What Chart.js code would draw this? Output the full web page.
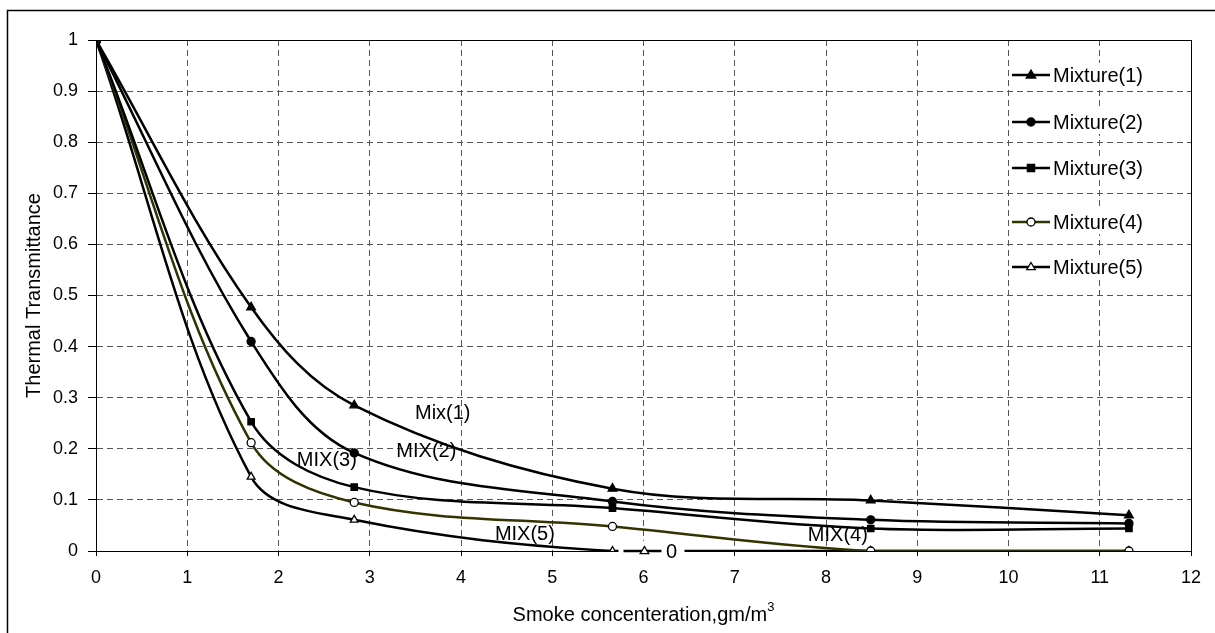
<!DOCTYPE html>
<html>
<head>
<meta charset="utf-8">
<script src="https://cdn.jsdelivr.net/npm/chart.js@4/dist/chart.umd.min.js"></script>
<style>
  html, body { margin: 0; padding: 0; background: #fff; }
  #wrap { width: 1215px; height: 633px; position: relative; }
  canvas { display: block; }
</style>
</head>
<body>
<div id="wrap"><canvas id="c" width="1215" height="633"></canvas></div>
<script>
// ---- data ----
const concentrations = [0, 1.7, 2.83, 5.66, 8.49, 11.32];
const mixture1 = [1, 0.477, 0.285, 0.122, 0.099, 0.070];
const mixture2 = [1, 0.410, 0.192, 0.097, 0.061, 0.054];
const mixture3 = [1, 0.253, 0.125, 0.084, 0.044, 0.044];
const mixture4 = [1, 0.212, 0.095, 0.048, 0, 0];
const mixture5 = [1, 0.145, 0.061, 0, 0, 0];
const seriesNames = ['Mixture(1)', 'Mixture(2)', 'Mixture(3)', 'Mixture(4)', 'Mixture(5)'];
const curveLabels = ['Mix(1)', 'MIX(2)', 'MIX(3)', 'MIX(4)', 'MIX(5)'];
const curveLabelX = [3.80, 3.62, 2.53, 8.13, 4.70];
const curveLabelY = [0.270, 0.194, 0.178, 0.031, 0.033];
const xTitle = 'Smoke concenteration,gm/m';
const xTitleSup = '3';
const yTitle = 'Thermal Transmittance';

const FONT = '"Liberation Sans", Arial, sans-serif';

function pts(arr) { return arr.map((v, i) => ({ x: concentrations[i], y: v })); }

const styles = [
  { color: '#000000', point: 'triangle', fill: '#000000', r: 5 },
  { color: '#000000', point: 'circle', fill: '#000000', r: 4 },
  { color: '#000000', point: 'rect', fill: '#000000', r: 4.5 },
  { color: '#333300', point: 'circle', fill: '#ffffff', r: 4 },
  { color: '#000000', point: 'triangle', fill: '#ffffff', r: 4.5 }
];
const seriesData = [mixture1, mixture2, mixture3, mixture4, mixture5];

const datasets = seriesData.map((d, i) => ({
  label: seriesNames[i],
  data: pts(d),
  borderColor: styles[i].color,
  borderWidth: 2.5,
  pointStyle: styles[i].point,
  pointRadius: styles[i].r,
  pointBackgroundColor: styles[i].fill,
  pointBorderColor: '#000000',
  pointBorderWidth: 1.3,
  tension: 0.35,
  fill: false
}));

function drawMarker(ctx, style, x, y, r, fill) {
  ctx.save();
  ctx.fillStyle = fill;
  ctx.strokeStyle = '#000';
  ctx.lineWidth = 1.3;
  ctx.beginPath();
  if (style === 'triangle') {
    ctx.moveTo(x, y - r);
    ctx.lineTo(x + r * 0.95, y + r * 0.6);
    ctx.lineTo(x - r * 0.95, y + r * 0.6);
    ctx.closePath();
  } else if (style === 'rect') {
    ctx.rect(x - r * 0.8, y - r * 0.8, r * 1.6, r * 1.6);
  } else {
    ctx.arc(x, y, r, 0, Math.PI * 2);
  }
  ctx.fill();
  ctx.stroke();
  ctx.restore();
}

const decorPlugin = {
  id: 'decor',
  beforeDraw(chart) {
    const ctx = chart.ctx;
    ctx.save();
    ctx.fillStyle = '#fff';
    ctx.fillRect(0, 0, chart.width, chart.height);
    ctx.restore();
  },
  beforeDatasetsDraw(chart) {
    const ctx = chart.ctx;
    const a = chart.chartArea;
    ctx.save();
    ctx.strokeStyle = '#000';
    ctx.lineWidth = 1;
    ctx.strokeRect(Math.round(a.left) + 0.5, Math.round(a.top) + 0.5,
      Math.round(a.right - a.left), Math.round(a.bottom - a.top));
    ctx.restore();
  },
  afterDatasetsDraw(chart) {
    const ctx = chart.ctx;
    const xs = chart.scales.x, ys = chart.scales.y;
    const a = chart.chartArea;

    // data label "0" with legend key for Mixture(5) at its 4th point
    const px = xs.getPixelForValue(concentrations[3]);
    const py = ys.getPixelForValue(mixture5[3]);
    ctx.save();
    ctx.fillStyle = '#fff';
    ctx.fillRect(px + 6, py - 10, 66, 20);
    ctx.strokeStyle = '#000';
    ctx.lineWidth = 2.5;
    ctx.beginPath();
    ctx.moveTo(px + 11, py);
    ctx.lineTo(px + 49, py);
    ctx.stroke();
    drawMarker(ctx, 'triangle', px + 32, py, 4.5, '#fff');
    ctx.fillStyle = '#000';
    ctx.font = '20px ' + FONT;
    ctx.textAlign = 'center';
    ctx.textBaseline = 'middle';
    ctx.fillText(String(mixture5[3]), px + 59, py + 1);
    ctx.restore();

    // curve labels
    ctx.save();
    ctx.fillStyle = '#000';
    ctx.font = '20px ' + FONT;
    ctx.textAlign = 'center';
    ctx.textBaseline = 'middle';
    curveLabels.forEach((t, i) => {
      ctx.fillText(t, xs.getPixelForValue(curveLabelX[i]), ys.getPixelForValue(curveLabelY[i]));
    });
    ctx.restore();

    // legend
    const legendY = [75, 122, 168, 222, 267];
    ctx.save();
    ctx.font = '20px ' + FONT;
    ctx.textBaseline = 'middle';
    ctx.textAlign = 'left';
    seriesNames.forEach((name, i) => {
      const y = legendY[i];
      const tw = ctx.measureText(name).width;
      ctx.fillStyle = '#fff';
      ctx.fillRect(1052, y - 12, tw + 4, 24);
      ctx.strokeStyle = styles[i].color;
      ctx.lineWidth = 2.5;
      ctx.beginPath();
      ctx.moveTo(1012, y);
      ctx.lineTo(1050, y);
      ctx.stroke();
      drawMarker(ctx, styles[i].point, 1031, y, styles[i].r, styles[i].fill);
      ctx.fillStyle = '#000';
      ctx.fillText(name, 1053, y + 1);
    });
    ctx.restore();

    // axis titles
    ctx.save();
    ctx.fillStyle = '#000';
    ctx.textBaseline = 'middle';
    ctx.font = '20px ' + FONT;
    const mainW = ctx.measureText(xTitle).width;
    ctx.font = '13px ' + FONT;
    const supW = ctx.measureText(xTitleSup).width;
    const cx = (a.left + a.right) / 2;
    const startX = cx - (mainW + supW) / 2;
    ctx.font = '20px ' + FONT;
    ctx.textAlign = 'left';
    ctx.fillText(xTitle, startX, 615);
    ctx.font = '13px ' + FONT;
    ctx.fillText(xTitleSup, startX + mainW, 607);
    ctx.font = '20px ' + FONT;
    ctx.translate(34, (a.top + a.bottom) / 2);
    ctx.rotate(-Math.PI / 2);
    ctx.textAlign = 'center';
    ctx.fillText(yTitle, 0, 0);
    ctx.restore();

    // outer frame
    ctx.save();
    ctx.strokeStyle = '#000';
    ctx.lineWidth = 1.5;
    ctx.strokeRect(7.5, 10.5, 1400, 800);
    ctx.restore();
  }
};

new Chart(document.getElementById('c'), {
  type: 'line',
  data: { datasets },
  plugins: [decorPlugin],
  options: {
    responsive: false,
    animation: false,
    devicePixelRatio: 1,
    layout: { padding: { left: 0, top: 40, right: 24, bottom: 0 } },
    plugins: { legend: { display: false }, tooltip: { enabled: false } },
    elements: { line: { capBezierPoints: true } },
    scales: {
      x: {
        type: 'linear',
        min: 0, max: 12,
        afterFit(s) { s.height = 82; },
        ticks: { stepSize: 1, color: '#000', font: { family: FONT, size: 18 }, padding: 11, maxRotation: 0 },
        grid: { color: '#555', lineWidth: 1, tickLength: 5, tickColor: '#000', tickWidth: 1 },
        border: { display: true, color: '#000', width: 1, dash: [6, 4] }
      },
      y: {
        type: 'linear',
        min: 0, max: 1,
        afterFit(s) { s.width = 96; },
        ticks: {
          stepSize: 0.1, color: '#000', font: { family: FONT, size: 18 }, padding: 10,
          callback: (v) => String(Number(v.toFixed(1)))
        },
        grid: { color: '#555', lineWidth: 1, tickLength: 8, tickColor: '#000', tickWidth: 1 },
        border: { display: true, color: '#000', width: 1, dash: [6, 4] }
      }
    }
  }
});
</script>
</body>
</html>
